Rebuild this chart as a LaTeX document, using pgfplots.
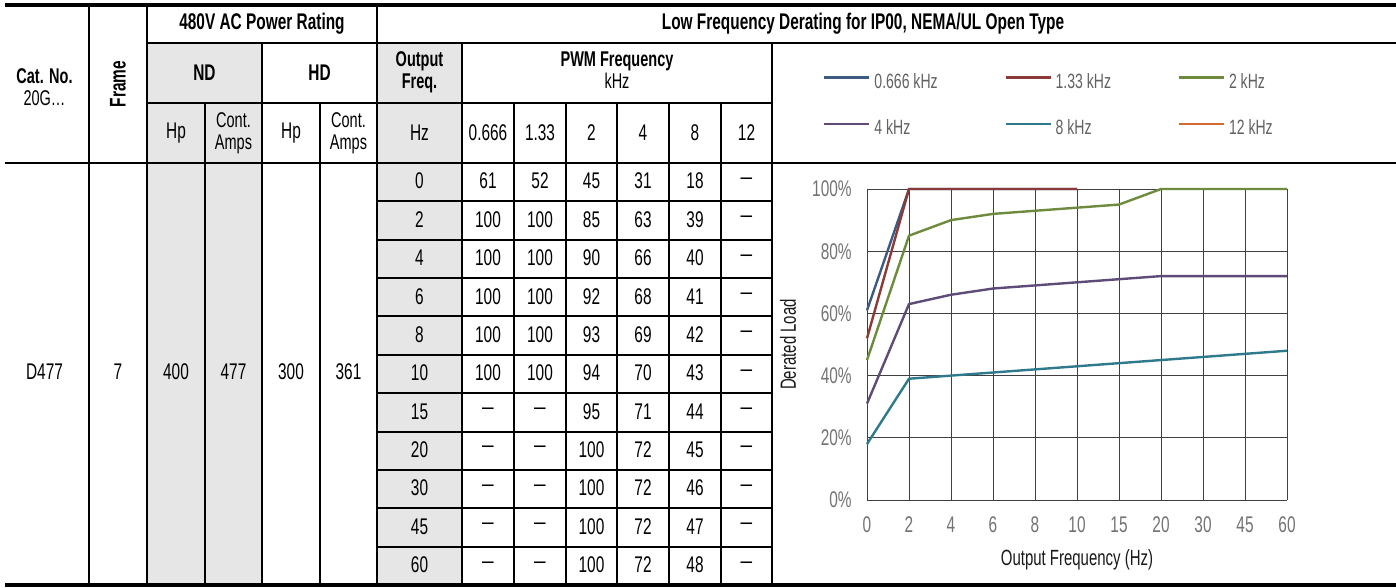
\documentclass[border=0pt]{standalone}
\usepackage{pgfplots}
\pgfplotsset{compat=1.18}
\usepackage{fontspec}
\setmainfont{Liberation Sans}[FakeStretch=0.68]

\definecolor{hdrgray}{HTML}{E6E6E6}
\definecolor{cA}{HTML}{3D5A80}
\definecolor{cB}{HTML}{8B3A3A}
\definecolor{cC}{HTML}{6E8B3D}
\definecolor{cD}{HTML}{5E4B78}
\definecolor{cE}{HTML}{2E7A8C}
\definecolor{cF}{HTML}{D2692E}

\newcommand{\tf}{\fontsize{17pt}{20pt}\selectfont}
\newcommand{\twoline}{\fontsize{16pt}{16.5pt}\selectfont}
\newcommand{\dash}{\scalebox{1.35}[1]{--}}

\begin{document}
\begin{tikzpicture}[font=\tf]
% ---- table, in pixel units (y down) ----
\begin{scope}[x=0.75pt,y=-0.75pt]
\path[use as bounding box] (0,0) rectangle (1396,587);
\fill[hdrgray] (147,43) rectangle (262,585);
\fill[hdrgray] (377,43) rectangle (462,585);

\begin{scope}[line width=1.5pt]
\foreach \x in {89,147,377} \draw (\x,5) -- (\x,585);
\foreach \x in {262,462,772} \draw (\x,43) -- (\x,585);
\foreach \x in {205,320,514,566,617,669,721} \draw (\x,103) -- (\x,585);
\draw (147,43) -- (772,43);
\draw (147,103) -- (772,103);
\foreach \i in {1,...,10} \draw (377,{163+38.36*\i}) -- (772,{163+38.36*\i});
\end{scope}
\draw[line width=2.1pt] (772,43) -- (1396,43);
\draw[line width=2.2pt] (5,163) -- (1396,163);
\draw[line width=2.4pt] (5,5) -- (1396,5);
\draw[line width=2.4pt] (5,585) -- (1396,585);

% header text
\node[align=center,font=\twoline] at (44.5,87) {\textbf{Cat. No.}\\20G\ldots};
\node[rotate=90,font=\tf\bfseries] at (118,84) {Frame};
\node[font=\tf\bfseries] at (262,24) {480V AC Power Rating};
\node[font=\tf\bfseries] at (863,24) {Low Frequency Derating for IP00, NEMA/UL Open Type};
\node[font=\tf\bfseries] at (204.5,73) {ND};
\node[font=\tf\bfseries] at (319.5,73) {HD};
\node[align=center,font=\twoline\bfseries] at (419.5,72) {Output\\Freq.};
\node[align=center,font=\twoline] at (617,70) {\textbf{PWM Frequency}\\kHz};
\node at (176,133) {Hp};
\node[align=center,font=\twoline] at (233.5,133) {Cont.\\Amps};
\node at (291,133) {Hp};
\node[align=center,font=\twoline] at (348.5,133) {Cont.\\Amps};
\node at (419.5,133) {Hz};
\foreach \t/\x in {0.666/488,1.33/540,2/591.5,4/643,8/695,12/746.5}
  \node at (\x,133) {\t};

% merged data cells
\foreach \t/\x in {D477/44.5,7/118,400/176,477/233.5,300/291,361/348.5}
  \node at (\x,372) {\t};

% data rows
\foreach \f/\a/\b/\c/\d/\e [count=\i from 0] in
  {0/61/52/45/31/18, 2/100/100/85/63/39, 4/100/100/90/66/40,
   6/100/100/92/68/41, 8/100/100/93/69/42, 10/100/100/94/70/43,
   15/\dash/\dash/95/71/44, 20/\dash/\dash/100/72/45, 30/\dash/\dash/100/72/46,
   45/\dash/\dash/100/72/47, 60/\dash/\dash/100/72/48}
{
  \pgfmathsetmacro{\yy}{163+38.36*(\i+0.5)-1}
  \node at (419.5,\yy) {\f};
  \node at (488,\yy) {\a};
  \node at (540,\yy) {\b};
  \node at (591.5,\yy) {\c};
  \node at (643,\yy) {\d};
  \node at (695,\yy) {\e};
  \node at (746.5,\yy) {\dash};
}
\end{scope}

% ---- chart ----
\begin{axis}[
  at={(650.25pt,-375pt)}, anchor=south west,
  width=315pt, height=233.25pt, scale only axis,
  xmin=0, xmax=10, ymin=0, ymax=100,
  clip=false,
  xtick={0,...,10},
  xticklabels={0,2,4,6,8,10,15,20,30,45,60},
  ytick={20,40,60,80,100},
  yticklabels={20\%,40\%,60\%,80\%,100\%},
  extra y ticks={0}, extra y tick labels={0\%},
  extra y tick style={grid style={draw=black!15, line width=1.2pt}},
  grid=major,
  major grid style={draw=black!75, line width=0.7pt},
  axis line style={draw=none},
  major tick length=0pt,
  ticklabel style={font=\fontsize{17pt}{18pt}\selectfont, text=black!55},
  xticklabel style={yshift=-9pt},
  yticklabel style={xshift=-8pt},
  xlabel={Output Frequency (Hz)},
  ylabel={Derated Load},
  label style={font=\fontsize{16.5pt}{18pt}\selectfont, text=black!90},
  xlabel style={at={(axis description cs:0.5,-0.193)}, anchor=center},
  ylabel style={at={(axis description cs:-0.188,0.5)}, anchor=center, rotate=0},
  legend columns=3,
  legend cell align=left,
  legend image code/.code={\draw[#1, line width=1.7pt] (0pt,4.5pt) -- (33.75pt,4.5pt);},
  legend style={at={(axis description cs:-0.105,1.264)}, anchor=west,
    draw=none, fill=none, inner sep=0pt, row sep=22pt,
    font=\fontsize{15.5pt}{17pt}\selectfont, text=black!62,
    nodes={inner sep=0pt, text height=10pt, text depth=3pt},
    /tikz/every odd column/.append style={column sep=3pt},
    /tikz/every even column/.append style={column sep=50pt}},
  every axis plot/.append style={line width=1.8pt},
]
\addplot[cA] coordinates {(0,61) (1,100) (2,100) (3,100) (4,100) (5,100)};
\addlegendentry{0.666 kHz}
\addplot[cB] coordinates {(0,52) (1,100) (2,100) (3,100) (4,100) (5,100)};
\addlegendentry{1.33 kHz}
\addplot[cC] coordinates {(0,45) (1,85) (2,90) (3,92) (4,93) (5,94) (6,95) (7,100) (8,100) (9,100) (10,100)};
\addlegendentry{2 kHz}
\addplot[cD] coordinates {(0,31) (1,63) (2,66) (3,68) (4,69) (5,70) (6,71) (7,72) (8,72) (9,72) (10,72)};
\addlegendentry{4 kHz}
\addplot[cE] coordinates {(0,18) (1,39) (2,40) (3,41) (4,42) (5,43) (6,44) (7,45) (8,46) (9,47) (10,48)};
\addlegendentry{8 kHz}
\addlegendimage{cF}
\addlegendentry{12 kHz}
\end{axis}
\end{tikzpicture}
\end{document}
